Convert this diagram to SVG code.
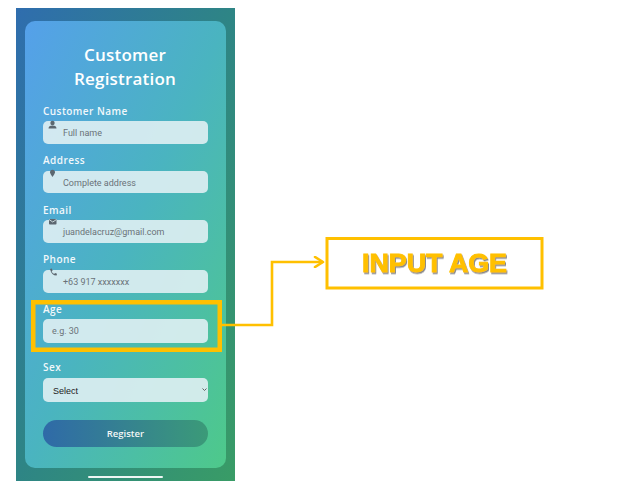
<svg xmlns="http://www.w3.org/2000/svg" width="618" height="491" viewBox="0 0 618 491">
<defs>
<linearGradient id="bgOuter" x1="0" y1="0" x2="1" y2="1">
<stop offset="0" stop-color="#2f6dae"/>
<stop offset="0.5" stop-color="#2e8585"/>
<stop offset="1" stop-color="#399c66"/>
</linearGradient>
<linearGradient id="bgCard" x1="0" y1="0" x2="1" y2="1">
<stop offset="0" stop-color="#55a0ea"/>
<stop offset="0.5" stop-color="#4ab4c0"/>
<stop offset="1" stop-color="#4ec98a"/>
</linearGradient>
<linearGradient id="btn" x1="0" y1="0" x2="1" y2="0">
<stop offset="0" stop-color="#2f6aa8"/>
<stop offset="1" stop-color="#3b9a78"/>
</linearGradient>
<marker id="arr" markerWidth="12" markerHeight="12" refX="10" refY="6" orient="auto" markerUnits="userSpaceOnUse">
<path d="M2,1 L10,6 L2,11" fill="none" stroke="#FFC000" stroke-width="2.6" stroke-linecap="round" stroke-linejoin="round"/>
</marker>
<filter id="sh" x="-10%" y="-20%" width="130%" height="150%">
<feDropShadow dx="1" dy="1.5" stdDeviation="0.6" flood-color="#555" flood-opacity="0.7"/>
</filter>
</defs>
<style>
.lbl{font-family:"Open Sans","Liberation Sans",sans-serif;font-size:10px;font-weight:600;letter-spacing:0.45px;fill:#f2f8fb}
.inp{fill:#e0f0f3;fill-opacity:0.9}
.ph{font-family:Roboto,"Liberation Sans",sans-serif;font-size:9px;fill:#6a7278}
.ttl{font-family:"Open Sans","Liberation Sans",sans-serif;font-size:17px;font-weight:600;letter-spacing:0.2px;fill:#ffffff;text-anchor:middle}
.hl{fill:none;stroke:#FFC000;stroke-width:4.5}
.ico{fill:#5c6770}
</style>
<rect width="618" height="491" fill="#ffffff"/>
<g id="phone">
<rect x="16" y="8" width="219" height="473" fill="url(#bgOuter)"/>
<rect x="25" y="21" width="201" height="447" rx="10" fill="url(#bgCard)"/>
<text class="ttl" x="125" y="61">Customer</text>
<text class="ttl" x="125" y="85">Registration</text>
<line x1="89" y1="477" x2="162" y2="477" stroke="#eef6f4" stroke-width="2" stroke-linecap="round"/>
</g>
<g id="field-name">
<text class="lbl" x="43" y="115">Customer Name</text>
<rect class="inp" x="43" y="121" width="165" height="23" rx="5"/>
<circle class="ico" cx="52.5" cy="123" r="2.2"/>
<path class="ico" d="M48.5,128.5 Q48.5,125.5 52.5,125.5 Q56.5,125.5 56.5,128.5 Z"/>
<text class="ph" x="63" y="136">Full name</text>
</g>
<g id="field-address">
<text class="lbl" x="43" y="164">Address</text>
<rect class="inp" x="43" y="171" width="165" height="22" rx="5"/>
<path class="ico" d="M52.5,177 Q50,174 50,172.3 A2.5,2.5 0 0 1 55,172.3 Q55,174 52.5,177 Z"/>
<text class="ph" x="63" y="186">Complete address</text>
</g>
<g id="field-email">
<text class="lbl" x="43" y="214">Email</text>
<rect class="inp" x="43" y="220" width="165" height="23" rx="5"/>
<rect class="ico" x="49" y="219" width="7.5" height="5.5" rx="0.8"/>
<path d="M49,219.5 L52.75,222 L56.5,219.5" fill="none" stroke="#e2f1f3" stroke-width="0.8"/>
<text class="ph" x="63" y="235">juandelacruz@gmail.com</text>
</g>
<g id="field-phone">
<text class="lbl" x="43" y="263">Phone</text>
<rect class="inp" x="43" y="270" width="165" height="23" rx="5"/>
<path class="ico" d="M50,269 L51.8,268.6 L52.6,270.6 L51.6,271.4 Q52.4,273.2 54.2,274 L55,273 L57,273.8 L56.6,275.6 Q51.5,275.6 50,269 Z"/>
<text class="ph" x="63" y="285">+63 917 xxxxxxx</text>
</g>
<g id="field-age">
<text class="lbl" x="43" y="313">Age</text>
<rect class="inp" x="43" y="319" width="165" height="24" rx="5"/>
<text class="ph" x="52" y="334" fill="#8a9298">e.g. 30</text>
<rect class="hl" x="33.25" y="302.25" width="186.5" height="47.5"/>
</g>
<g id="field-sex">
<text class="lbl" x="43" y="371">Sex</text>
<rect class="inp" x="43" y="378" width="165" height="24" rx="5"/>
<text x="53" y="394" font-family="'Liberation Sans',Arial,sans-serif" font-size="9px" fill="#222">Select</text>
<path d="M202.5,388.5 L204.5,390.5 L206.5,388.5" fill="none" stroke="#555" stroke-width="0.9"/>
</g>
<g id="btn-register">
<rect x="43" y="420" width="165" height="27" rx="13.5" fill="url(#btn)"/>
<text x="125.5" y="437" text-anchor="middle" font-family="'Open Sans','Liberation Sans',Arial,sans-serif" font-size="9.5px" font-weight="600" fill="#f2f6f6">Register</text>
</g>
<g id="connectors">
<polyline points="222,325 272,325 272,262 323,262" fill="none" stroke="#FFC000" stroke-width="2.6" marker-end="url(#arr)"/>
</g>
<g id="callout">
<rect x="327" y="238.5" width="215" height="49.5" fill="#ffffff" stroke="#FFC000" stroke-width="3"/>
<text x="434.5" y="272" text-anchor="middle" font-family="'Liberation Sans',Arial,sans-serif" font-size="25px" font-weight="bold" fill="#FFC000" stroke="#FFC000" stroke-width="0.9" textLength="145" lengthAdjust="spacingAndGlyphs" filter="url(#sh)">INPUT AGE</text>
</g>
</svg>
